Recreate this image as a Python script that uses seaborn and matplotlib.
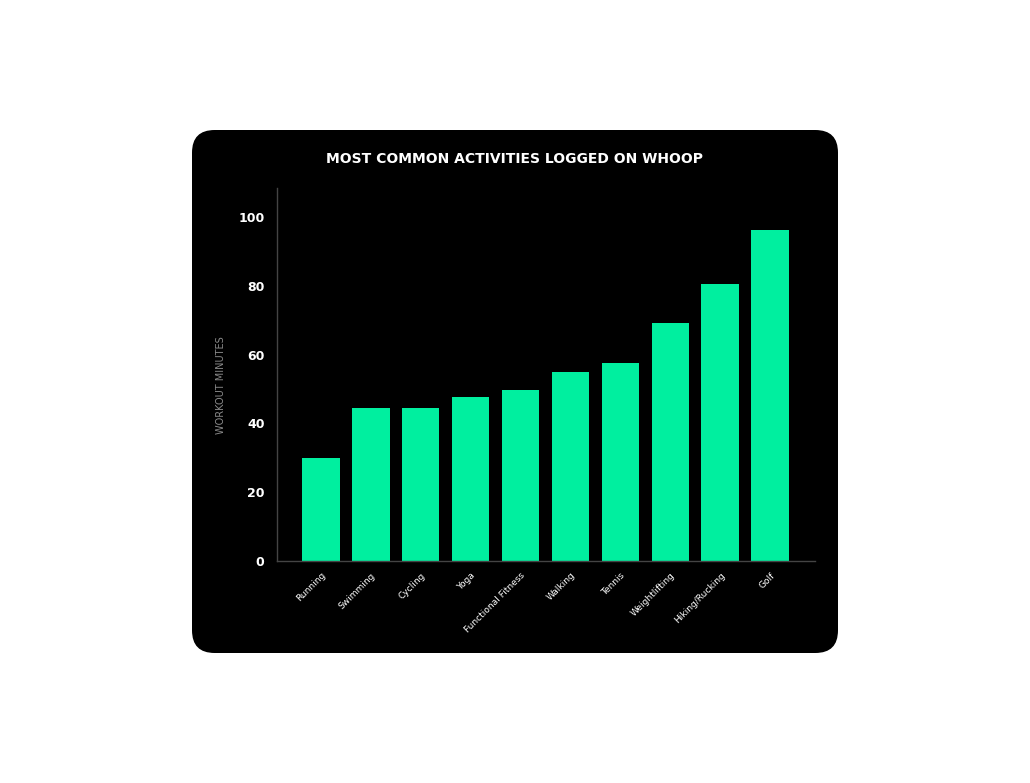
import matplotlib
matplotlib.use("Agg")
import matplotlib.pyplot as plt
from matplotlib.patches import FancyBboxPatch
import seaborn as sns
import pandas as pd

activities = ["Running", "Swimming", "Cycling", "Yoga", "Functional Fitness",
              "Walking", "Tennis", "Weightlifting", "Hiking/Rucking", "Golf"]
minutes = [30, 44.5, 44.5, 47.7, 49.7, 54.9, 57.6, 69.2, 80.5, 96.2]
y_ticks = [0, 20, 40, 60, 80, 100]

BAR_COLOR = "#00ef9f"

df = pd.DataFrame({"activity": activities, "minutes": minutes})

sns.set_style("white")
fig = plt.figure(figsize=(10.30, 7.83), dpi=100)
fig.patch.set_facecolor("white")

# black rounded card behind the chart
card = FancyBboxPatch((192 / 1030, 1 - 653 / 783), (838 - 192) / 1030, (653 - 130) / 783,
                      boxstyle="round,pad=0,rounding_size=0.022",
                      transform=fig.transFigure, facecolor="black",
                      edgecolor="none", zorder=-10, mutation_aspect=1030 / 783)
fig.patches.append(card)

ax = fig.add_axes([277 / 1030, 1 - 561 / 783, (815 - 277) / 1030, (561 - 188) / 783])
ax.set_zorder(1)
ax.set_facecolor("black")
sns.barplot(data=df, x="activity", y="minutes", color=BAR_COLOR, width=0.75,
            saturation=1, linewidth=0, ax=ax)

ax.set_xlim(-0.88, 9.9)
ax.set_ylim(0, 108.4)
ax.set_yticks(y_ticks)
ax.set_yticklabels([str(v) for v in y_ticks], fontsize=9, fontweight="bold")
ax.set_xticks(range(len(activities)))
ax.set_xticklabels(activities, rotation=45, ha="right", rotation_mode="anchor",
                   fontsize=6.5)
ax.tick_params(axis="both", colors="#444444", length=4, width=0.8)
for lbl in ax.get_xticklabels() + ax.get_yticklabels():
    lbl.set_color("white")
ax.tick_params(axis="y", pad=5)
ax.tick_params(axis="x", pad=3)

for side in ["top", "right"]:
    ax.spines[side].set_visible(False)
for side in ["left", "bottom"]:
    ax.spines[side].set_color("#444444")
    ax.spines[side].set_linewidth(1)

ax.set_xlabel("")
ax.set_ylabel("")
fig.text(221 / 1030, 1 - 385 / 783, "WORKOUT MINUTES", rotation=90, color="#8a8a8a",
         fontsize=7, ha="center", va="center")
fig.text(515 / 1030, 1 - 159 / 783, "MOST COMMON ACTIVITIES LOGGED ON WHOOP",
         color="white", fontsize=10, fontweight="bold", ha="center", va="center")

fig.savefig("out.png", dpi=100, facecolor="white")
